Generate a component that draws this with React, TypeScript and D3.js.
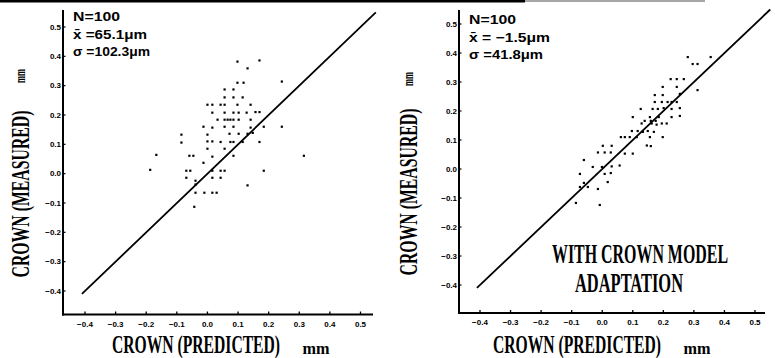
import React, { useEffect } from "react";
import * as d3 from "d3";

// tick values shared by both panels (mm)
const tickValues = [-0.4, -0.3, -0.2, -0.1, 0.0, 0.1, 0.2, 0.3, 0.4, 0.5];
const tickLabel = (d: number) => (d < 0 ? "\u2212" + Math.abs(d).toFixed(1) : d.toFixed(1));

// [predicted, measured] crown in mm
const withoutModel: [number, number][] = [
  [0.098, 0.382], [0.17, 0.386], [0.131, 0.359], [0.243, 0.314], [0.098, 0.31], [0.118, 0.31],
  [0.056, 0.287], [0.085, 0.287], [0.056, 0.26], [0.085, 0.26], [0.115, 0.26],
  [0.0, 0.235], [0.016, 0.235], [0.043, 0.235], [0.056, 0.235], [0.098, 0.235], [0.141, 0.235],
  [0.016, 0.208], [0.056, 0.208], [0.085, 0.208], [0.102, 0.208], [0.128, 0.208], [0.157, 0.21], [0.17, 0.21],
  [0.033, 0.184], [0.056, 0.184], [0.066, 0.184], [0.075, 0.184], [0.085, 0.184], [0.102, 0.184], [0.141, 0.184],
  [-0.013, 0.16], [0.016, 0.157], [0.056, 0.16], [0.085, 0.16], [0.141, 0.157], [0.184, 0.16], [0.243, 0.16],
  [-0.085, 0.133], [0.0, 0.133], [0.072, 0.136], [0.102, 0.136], [0.131, 0.136], [0.148, 0.139],
  [0.0, 0.11], [0.016, 0.11], [0.043, 0.108], [0.075, 0.108], [0.085, 0.108], [0.115, 0.108], [0.17, 0.108],
  [-0.085, 0.106], [0.0, 0.085], [0.056, 0.085],
  [-0.059, 0.061], [-0.046, 0.061], [0.016, 0.058], [0.085, 0.061], [0.315, 0.061], [-0.167, 0.064],
  [-0.013, 0.037],
  [-0.187, 0.013], [-0.069, 0.01], [-0.056, 0.01], [0.016, 0.01], [0.043, 0.01], [0.056, 0.01], [0.184, 0.01],
  [-0.069, -0.014], [0.016, -0.014], [0.043, -0.014], [-0.039, -0.024],
  [-0.039, -0.037], [0.131, -0.04], [-0.039, -0.065], [-0.01, -0.065], [0.016, -0.065], [0.03, -0.065],
  [-0.043, -0.113],
];

const withModel: [number, number][] = [
  [0.28, 0.386], [0.355, 0.386], [0.296, 0.362], [0.312, 0.362], [0.224, 0.31], [0.244, 0.31], [0.267, 0.31],
  [0.198, 0.283], [0.244, 0.283], [0.312, 0.272], [0.172, 0.255], [0.198, 0.255], [0.254, 0.259],
  [0.172, 0.231], [0.195, 0.231], [0.214, 0.231], [0.227, 0.231], [0.244, 0.231],
  [0.126, 0.207], [0.165, 0.207], [0.182, 0.207], [0.201, 0.21], [0.227, 0.207], [0.254, 0.21],
  [0.1, 0.179], [0.156, 0.179], [0.185, 0.179], [0.227, 0.179], [0.254, 0.183],
  [0.139, 0.166], [0.159, 0.166], [0.175, 0.166],
  [0.129, 0.157], [0.162, 0.157], [0.178, 0.153], [0.195, 0.157], [0.211, 0.157],
  [0.097, 0.131], [0.116, 0.131], [0.133, 0.128], [0.149, 0.131], [0.169, 0.128],
  [0.061, 0.11], [0.074, 0.11], [0.09, 0.11], [0.113, 0.11], [0.156, 0.11], [0.198, 0.11],
  [0.146, 0.081], [0.159, 0.079], [0.002, 0.08], [0.031, 0.08],
  [-0.014, 0.057], [0.008, 0.057], [0.028, 0.057], [0.074, 0.053], [0.1, 0.053],
  [-0.06, 0.031],
  [-0.031, 0.007], [-0.001, 0.007], [0.031, 0.009], [0.057, 0.012],
  [0.008, -0.017], [0.028, -0.014], [-0.073, -0.017],
  [-0.06, -0.048], [0.018, -0.045], [-0.073, -0.062], [-0.047, -0.062], [-0.014, -0.069],
  [-0.086, -0.117], [-0.008, -0.124],
];

const statsWithout = ["N=100", "x\u0304 =65.1\u03bcm", "\u03c3 =102.3\u03bcm"];
const statsWith = ["N=100", "x\u0304 = \u22121.5\u03bcm", "\u03c3 =41.8\u03bcm"];

// 45 degree reference line (predicted = measured)
const idealLine: [number, number][] = [[-0.41, -0.41], [0.55, 0.55]];

const xTitle = "CROWN (PREDICTED)";
const yTitle = "CROWN (MEASURED)";
const unit = "mm";
const noteLines = ["WITH CROWN MODEL", "ADAPTATION"];

const serif = "'Liberation Serif', 'DejaVu Serif', serif";
const sans = "'Liberation Sans', Arial, sans-serif";

// tall, narrow bold serif like the typewriter lettering of the scan
const Tall = ({ x, y, rotate = 0, size = 16, stretch = 1.6, len, anchor = "middle", children }: any) => (
  <text transform={`translate(${x},${y}) rotate(${rotate}) scale(1,${stretch})`} textAnchor={anchor}
        fontFamily={serif} fontWeight="bold" fontSize={size} textLength={len} lengthAdjust="spacingAndGlyphs">
    {children}
  </text>
);

type PanelProps = {
  points: [number, number][];
  stats: string[];
  statsLen: number[];
  ax: number; // y axis x position
  axRight: number;
  ay: number; // x axis y position
  ayTop: number;
  xPx: [number, number];
  yPx: [number, number];
  statX: number;
  statY: number;
  yTitleX: number;
  yTitleY: number;
  yUnitY: number;
  xTitleX: number;
  xUnitX: number;
  note?: boolean;
};

const Panel = (p: PanelProps) => {
  const xScale = d3.scaleLinear().domain([-0.4, 0.5]).range(p.xPx);
  const yScale = d3.scaleLinear().domain([-0.4, 0.5]).range(p.yPx);
  const line = d3.line<[number, number]>().x(d => xScale(d[0])).y(d => yScale(d[1]));

  return (
    <g>
      {/* axes */}
      <line x1={p.ax} x2={p.ax} y1={p.ayTop} y2={p.ay + 1} stroke="black" strokeWidth={2} />
      <line x1={p.ax - 1} x2={p.axRight} y1={p.ay} y2={p.ay} stroke="black" strokeWidth={2} />

      {tickValues.map(t => (
        <g key={"x" + t}>
          <line x1={xScale(t)} x2={xScale(t)} y1={p.ay} y2={p.ay - 3} stroke="black" strokeWidth={1.3} />
          <text x={xScale(t)} y={p.ay + 12} textAnchor="middle" fontFamily={sans} fontWeight="bold" fontSize={8}>
            {tickLabel(t)}
          </text>
        </g>
      ))}
      {tickValues.map(t => (
        <g key={"y" + t}>
          <line x1={p.ax} x2={p.ax + 2.5} y1={yScale(t)} y2={yScale(t)} stroke="black" strokeWidth={1.2} />
          <text x={p.ax - 2} y={yScale(t) + 2.8} textAnchor="end" fontFamily={sans} fontWeight="bold" fontSize={8}>
            {tickLabel(t)}
          </text>
        </g>
      ))}

      <path d={line(idealLine) || ""} fill="none" stroke="black" strokeWidth={1.8} />

      {p.points.map((d, i) => (
        <rect key={i} x={xScale(d[0]) - 1.1} y={yScale(d[1]) - 1.1} width={2.2} height={2.2} fill="black" />
      ))}

      {p.stats.map((s, i) => (
        <text key={s} x={p.statX} y={p.statY + i * 17.5} fontFamily={sans} fontWeight="bold" fontSize={12.5}
              textLength={p.statsLen[i]} lengthAdjust="spacingAndGlyphs">
          {s}
        </text>
      ))}

      {/* axis titles */}
      <Tall x={p.yTitleX} y={p.yTitleY} rotate={-90} len={167}>{yTitle}</Tall>
      <Tall x={p.yTitleX - 4} y={p.yUnitY} rotate={-90} size={15} stretch={1} len={14}>{unit}</Tall>
      <Tall x={p.xTitleX} y={353} len={168}>{xTitle}</Tall>
      <Tall x={p.xUnitX} y={354} stretch={1.1} len={27}>{unit}</Tall>

      {p.note && (
        <g>
          <Tall x={640} y={263} stretch={1.7} len={176}>{noteLines[0]}</Tall>
          <Tall x={629} y={292} stretch={1.7} len={108}>{noteLines[1]}</Tall>
        </g>
      )}
    </g>
  );
};

const App = () => {
  const width = 775;
  const height = 358;

  useEffect(() => {
    document.body.style.margin = "0";
  }, []);

  return (
    <svg width={width} height={height} style={{ position: "absolute", left: 0, top: 0, background: "white" }}>
      <rect width={width} height={height} fill="white" />
      {/* scan edge at the top */}
      <line x1={0} x2={525} y1={1} y2={1} stroke="black" strokeWidth={3} />
      <line x1={525} x2={705} y1={1} y2={1} stroke="#888" strokeWidth={1.5} />

      <Panel points={withoutModel} stats={statsWithout} statsLen={[47, 74, 77]}
             ax={63} axRight={373} ay={314.5} ayTop={10} xPx={[85, 360.5]} yPx={[291, 27]}
             statX={73} statY={21} yTitleX={29} yTitleY={194} yUnitY={76} xTitleX={196} xUnitX={316} />
      <Panel points={withModel} stats={statsWith} statsLen={[47, 81, 74]}
             ax={459} axRight={765} ay={313} ayTop={10} xPx={[480, 755]} yPx={[285, 24]}
             statX={469} statY={24} yTitleX={417} yTitleY={192} yUnitY={79} xTitleX={577} xUnitX={697} note />
    </svg>
  );
};

export default App;
